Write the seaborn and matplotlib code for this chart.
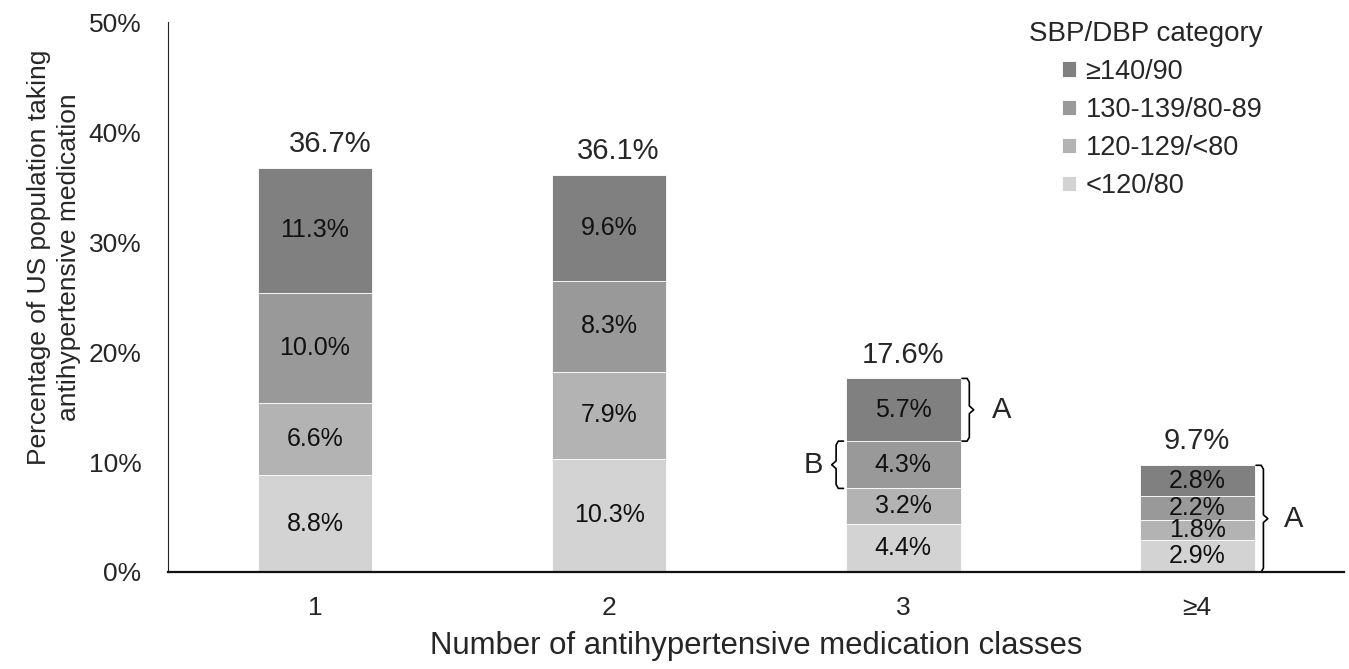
import numpy as np
import pandas as pd
import seaborn as sns
import matplotlib.pyplot as plt

classes = ["1", "2", "3", "≥4"]
categories = ["<120/80", "120-129/<80", "130-139/80-89", "≥140/90"]
lt120 = [8.8, 10.3, 4.4, 2.9]
s120_129 = [6.6, 7.9, 3.2, 1.8]
s130_139 = [10.0, 8.3, 4.3, 2.2]
ge140 = [11.3, 9.6, 5.7, 2.8]
totals = [36.7, 36.1, 17.6, 9.7]
colors = ["#d3d3d3", "#b3b3b3", "#999999", "#808080"]


def brace(ax, x, y0, y1, w, label, lx):
    # curly bracket drawn as a polyline, w>0 points right, w<0 points left
    ym = (y0 + y1) / 2
    c = 0.35
    xs = [x, x + w * 0.7, x + w, x + w, x + w * 1.6, x + w, x + w, x + w * 0.7, x]
    ys = [y1, y1, y1 - c, ym + c, ym, ym - c, y0 + c, y0, y0]
    ax.plot(xs, ys, color="black", lw=1.2, clip_on=False)
    ax.text(lx, ym, label, ha="center", va="center", fontsize=21)


def main():
    sns.set_style("white")
    plt.rcParams["font.family"] = ["Liberation Sans", "DejaVu Sans"]

    layers = [lt120, s120_129, s130_139, ge140]
    rows = []
    for cat, vals in zip(categories, layers):
        for cl, v in zip(classes, vals):
            rows.append({"classes": cl, "category": cat, "value": v})
    df = pd.DataFrame(rows)

    fig = plt.figure(figsize=(13.49, 6.69), dpi=100)
    ax = fig.add_axes([0.1245, 0.145, 0.872, 0.822])

    bottom = np.zeros(len(classes))
    for cat, col in zip(categories, colors):
        sub = df[df["category"] == cat]
        sns.barplot(data=sub, x="classes", y="value", color=col, width=0.39,
                    bottom=bottom, ax=ax, label=cat, edgecolor="white", linewidth=0.6)
        for i, v in enumerate(sub["value"]):
            ax.text(i, bottom[i] + v / 2, f"{v:.1f}%", ha="center", va="center",
                    fontsize=18, color="#111111")
        bottom = bottom + sub["value"].to_numpy()

    offs = [0.05, 0.03, 0, 0]
    for i, t in enumerate(totals):
        ax.text(i + offs[i], t + 0.9, f"{t:.1f}%", ha="center", va="bottom", fontsize=21)

    # brackets
    b3 = np.cumsum([lt120[2], s120_129[2], s130_139[2], ge140[2]])
    brace(ax, 2.2, b3[2], b3[3], 0.025, "A", 2.335)
    brace(ax, 1.797, b3[1], b3[2], -0.025, "B", 1.695)
    brace(ax, 3.2, 0, totals[3], 0.025, "A", 3.328)

    ax.set_xlim(-0.5, 3.5)
    ax.set_ylim(0, 50)
    ax.set_yticks(np.arange(0, 51, 10))
    ax.set_yticklabels([f"{v}%" for v in range(0, 51, 10)])
    ax.tick_params(axis="both", length=0, labelsize=19)
    ax.tick_params(axis="y", pad=19)
    ax.tick_params(axis="x", pad=17)
    sns.despine(ax=ax)
    ax.spines["left"].set_color("#222222")
    ax.spines["bottom"].set_color("#111111")
    ax.spines["bottom"].set_linewidth(1.6)
    ax.set_xlabel("Number of antihypertensive medication classes", fontsize=22.4, labelpad=8)
    ax.set_ylabel("Percentage of US population taking\nantihypertensive medication",
                  fontsize=19, linespacing=1.3)
    ax.yaxis.set_label_coords(-0.074, 0.573)

    h, l = ax.get_legend_handles_labels()
    leg = ax.legend(h[::-1], l[::-1], title="SBP/DBP category", loc="upper right",
                    bbox_to_anchor=(0.951, 1.047), frameon=False, fontsize=19.5,
                    title_fontsize=20, handlelength=0.5, handleheight=0.5,
                    handletextpad=0.35, labelspacing=0.45)
    leg._legend_box.align = "right"

    fig.savefig("out.png", dpi=100)


if __name__ == "__main__":
    main()
